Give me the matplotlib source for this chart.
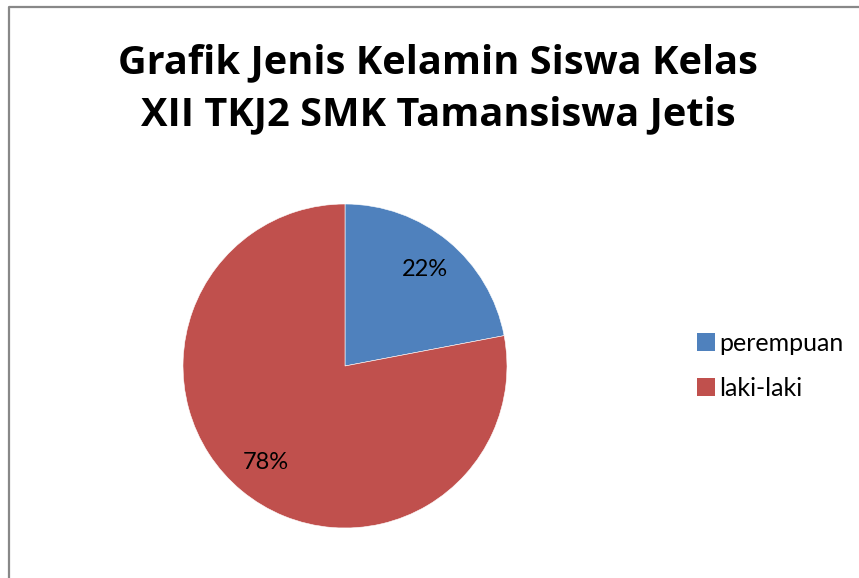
import matplotlib

matplotlib.use("Agg")
import matplotlib.pyplot as plt
from matplotlib.patches import Patch
from matplotlib.lines import Line2D

plt.rcParams["font.family"] = ["Lato", "DejaVu Sans"]

labels = ["perempuan", "laki-laki"]
shares = [22, 78]
colors = ["#4F81BD", "#C0504D"]
title = "Grafik Jenis Kelamin Siswa Kelas\nXII TKJ2 SMK Tamansiswa Jetis"

W, H = 859, 578
fig = plt.figure(figsize=(W / 100, H / 100), dpi=100, facecolor="white")

# chart frame (only left and top edges are visible in the crop)
fig.add_artist(Line2D([9 / W, 9 / W, 1.01], [-0.01, 1 - 7 / H, 1 - 7 / H],
                      transform=fig.transFigure, color="#888888", lw=1.6))

fig.text(438 / W, 1 - 89 / H, title, ha="center", va="center",
         fontsize=28.6, fontweight="bold", linespacing=1.43,
         family=["Open Sans", "DejaVu Sans"])

cx, cy, r = 345, 366, 162
ax = fig.add_axes([(cx - r) / W, (H - cy - r) / H, 2 * r / W, 2 * r / H])
wedges, _, autotexts = ax.pie(shares, colors=colors, startangle=90, counterclock=False,
                              autopct="%1.0f%%", pctdistance=0.77, radius=1,
                              wedgeprops=dict(edgecolor="white", linewidth=0.4),
                              textprops=dict(fontsize=17, color="black"))
ax.set_xlim(-1, 1)
ax.set_ylim(-1, 1)
ax.set_aspect("equal")
ax.axis("off")

handles = [Patch(facecolor=c, edgecolor="none") for c in colors]
fig.legend(handles, labels, loc="center left", bbox_to_anchor=(684 / W, 1 - 366 / H),
           frameon=False, fontsize=18, handlelength=0.72, handleheight=0.72,
           handletextpad=0.2, labelspacing=0.88, borderpad=0)

fig.savefig("out.png", dpi=100, facecolor="white")
